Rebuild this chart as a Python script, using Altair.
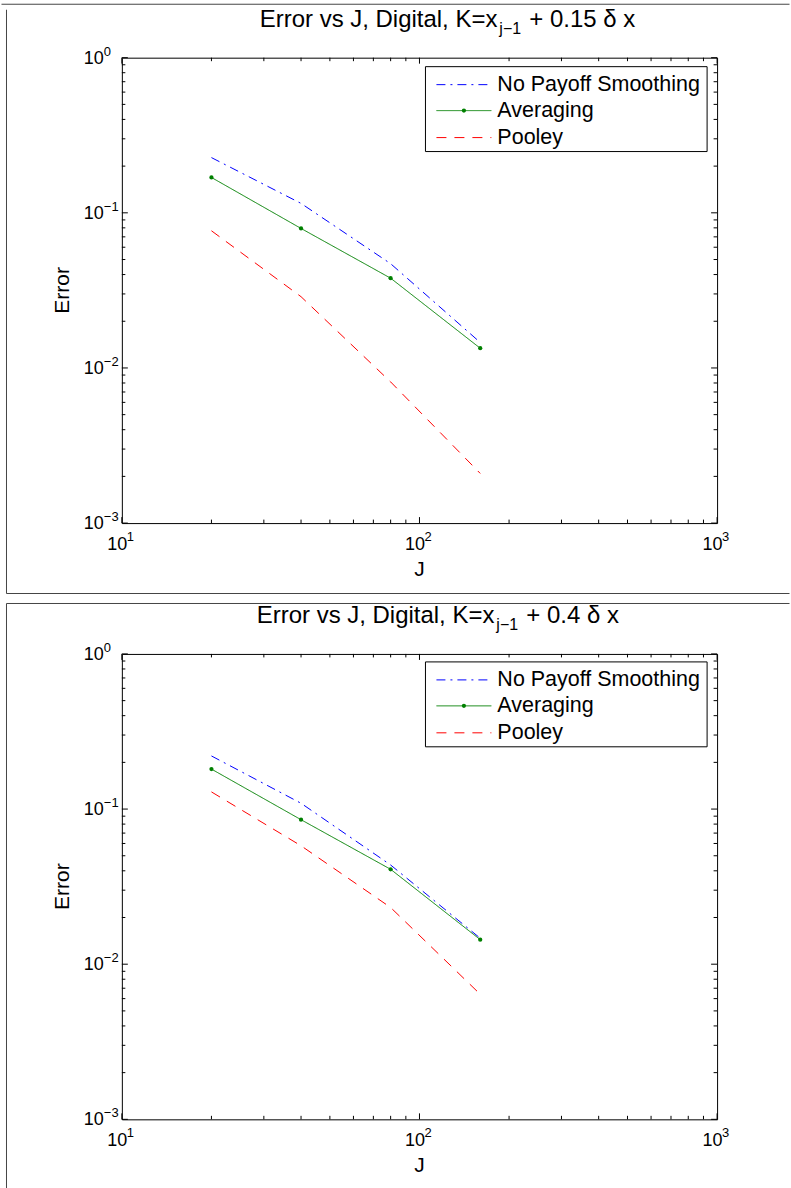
import altair as alt
import pandas as pd

# ---------------- data ----------------
J = [20, 40, 80, 160]
series_names = ["No Payoff Smoothing", "Averaging", "Pooley"]

top_no_smoothing = [0.227, 0.115, 0.047, 0.0146]
top_averaging = [0.169, 0.0793, 0.0379, 0.0134]
top_pooley = [0.0766, 0.0288, 0.00813, 0.00209]

bot_no_smoothing = [0.220, 0.109, 0.0436, 0.0147]
bot_averaging = [0.181, 0.0854, 0.0409, 0.0144]
bot_pooley = [0.129, 0.058, 0.0232, 0.0064]

title_prefix = "Error vs J, Digital, K=x"
title_sub = "j\u22121"
title_suffixes = ["+ 0.15 \u03b4 x", "+ 0.4 \u03b4 x"]

x_major = [10, 100, 1000]
x_exp = ["1", "2", "3"]
x_minor = [20, 30, 40, 50, 60, 70, 80, 90, 200, 300, 400, 500, 600, 700, 800, 900]
y_major = [1, 0.1, 0.01, 0.001]
y_exp = ["0", "\u22121", "\u22122", "\u22123"]
y_minor = [0.002, 0.003, 0.004, 0.005, 0.006, 0.007, 0.008, 0.009,
           0.02, 0.03, 0.04, 0.05, 0.06, 0.07, 0.08, 0.09,
           0.2, 0.3, 0.4, 0.5, 0.6, 0.7, 0.8, 0.9]

colors = ["#0000ff", "#008000", "#ff0000"]
dashes = [[9, 5, 2, 5], [1, 0], [10, 8]]

FONT = "Liberation Sans"
W, H = 596, 466
MAJ, MIN = 6, 3.5
XR = 668.5  # right end of frame lines (plot-relative); keeps page width <= 791

one = pd.DataFrame({"a": [0]})


def txt(text, x, y, size, align="center", angle=0, baseline="middle"):
    return alt.Chart(one).mark_text(
        text=text, font=FONT, fontSize=size, align=align, baseline=baseline,
        angle=angle, color="black").encode(x=alt.value(x), y=alt.value(y))


def hrule(x1, x2, y, color="#444444", dash=None):
    kw = dict(color=color, strokeWidth=1)
    if dash is not None:
        kw["strokeDash"] = dash
    return alt.Chart(one).mark_rule(**kw).encode(x=alt.value(x1), x2=alt.value(x2), y=alt.value(y))


def vrule(x, y1, y2, color="#444444"):
    return alt.Chart(one).mark_rule(color=color, strokeWidth=1).encode(
        x=alt.value(x), y=alt.value(y1), y2=alt.value(y2))


def panel(idx, no, avg, pool, legend_y, title_end, frame_layers):
    df = pd.DataFrame({
        "J": J * 3,
        "Error": no + avg + pool,
        "Series": [s for s in series_names for _ in J],
    })
    xsc = alt.Scale(type="log", domain=[10, 1000], nice=False)
    ysc = alt.Scale(type="log", domain=[0.001, 1], nice=False)

    lines = alt.Chart(df).mark_line(strokeWidth=1).encode(
        x=alt.X("J:Q", scale=xsc, axis=None),
        y=alt.Y("Error:Q", scale=ysc, axis=None),
        color=alt.Color("Series:N", scale=alt.Scale(domain=series_names, range=colors), legend=None),
        strokeDash=alt.StrokeDash("Series:N", scale=alt.Scale(domain=series_names, range=dashes), legend=None),
    )
    pts = alt.Chart(df[df["Series"] == "Averaging"]).mark_circle(size=18, color="#008000", opacity=1).encode(
        x=alt.X("J:Q", scale=xsc, axis=None),
        y=alt.Y("Error:Q", scale=ysc, axis=None),
    )
    layers = [lines, pts]

    # inward ticks on all four sides (box axes)
    for L, vals in ((MAJ, x_major), (MIN, x_minor)):
        d = pd.DataFrame({"v": vals})
        layers.append(alt.Chart(d).mark_rule(color="black", strokeWidth=1).encode(
            x=alt.X("v:Q", scale=xsc, axis=None), y=alt.value(H), y2=alt.value(H - L)))
        layers.append(alt.Chart(d).mark_rule(color="black", strokeWidth=1).encode(
            x=alt.X("v:Q", scale=xsc, axis=None), y=alt.value(0), y2=alt.value(L)))
    for L, vals in ((MAJ, y_major), (MIN, y_minor)):
        d = pd.DataFrame({"v": vals})
        layers.append(alt.Chart(d).mark_rule(color="black", strokeWidth=1).encode(
            y=alt.Y("v:Q", scale=ysc, axis=None), x=alt.value(0), x2=alt.value(L)))
        layers.append(alt.Chart(d).mark_rule(color="black", strokeWidth=1).encode(
            y=alt.Y("v:Q", scale=ysc, axis=None), x=alt.value(W), x2=alt.value(W - L)))

    # tick labels 10^n with raised exponents
    xl = pd.DataFrame({"v": x_major, "e": x_exp})
    layers.append(alt.Chart(xl).mark_text(text="10", font=FONT, fontSize=18, align="center",
                                          baseline="middle", dx=-4.5, color="black").encode(
        x=alt.X("v:Q", scale=xsc, axis=None), y=alt.value(H + 21.5)))
    layers.append(alt.Chart(xl).mark_text(font=FONT, fontSize=13, align="left",
                                          baseline="middle", dx=5, color="black").encode(
        x=alt.X("v:Q", scale=xsc, axis=None), y=alt.value(H + 14), text="e:N"))
    yl = pd.DataFrame({"v": y_major, "e": y_exp})
    layers.append(alt.Chart(yl).mark_text(text="10", font=FONT, fontSize=18, align="right",
                                          baseline="middle", dy=1, color="black").encode(
        y=alt.Y("v:Q", scale=ysc, axis=None), x=alt.value(-18)))
    layers.append(alt.Chart(yl).mark_text(font=FONT, fontSize=13, align="left",
                                          baseline="middle", dy=-6, color="black").encode(
        y=alt.Y("v:Q", scale=ysc, axis=None), x=alt.value(-18), text="e:N"))

    # axis titles
    layers.append(txt("J", W / 2, H + 47, 21))
    layers.append(txt("Error", -59, H / 2, 21, angle=270))

    # title with subscript
    layers.append(txt(title_prefix, title_end, -38, 24, align="right"))
    layers.append(txt(title_sub, title_end + 2, -29, 16, align="left"))
    layers.append(txt(title_suffixes[idx], title_end + 32, -38, 24, align="left"))

    # legend box
    ly = legend_y
    layers.append(alt.Chart(one).mark_rect(fill="white", stroke="black", strokeWidth=1).encode(
        x=alt.value(304), x2=alt.value(586), y=alt.value(ly), y2=alt.value(ly + 85)))
    row_y = [ly + 18, ly + 44, ly + 71]
    for i, name in enumerate(series_names):
        layers.append(hrule(315, 370, row_y[i], color=colors[i], dash=dashes[i]))
        layers.append(txt(name, 376, row_y[i], 21.5, align="left"))
    layers.append(alt.Chart(one).mark_circle(size=18, color="#008000", opacity=1).encode(
        x=alt.value(342.5), y=alt.value(row_y[1])))

    layers += frame_layers
    return alt.layer(*layers).properties(width=W, height=H)


# decorative figure frames around each panel
frames_top = [
    hrule(-120.5, XR, -53.5),
    vrule(-115.5, -48, 536.5),
    hrule(-115.5, XR, 536.5),
]
frames_bottom = [
    hrule(-115.5, XR, -50.5),
    vrule(-115.5, -50.5, 535),
]

p1 = panel(0, top_no_smoothing, top_averaging, top_pooley, 9, 376, frames_top)
p2 = panel(1, bot_no_smoothing, bot_averaging, bot_pooley, 8, 373, frames_bottom)

chart = alt.vconcat(p1, p2, spacing=131, bounds="flush").properties(
    padding={"left": 0, "top": 2, "right": 0, "bottom": 0},
    background="white",
).configure_view(
    stroke="black", strokeWidth=1
)

chart.save("out.html", embed_options={"renderer": "svg", "actions": False})
